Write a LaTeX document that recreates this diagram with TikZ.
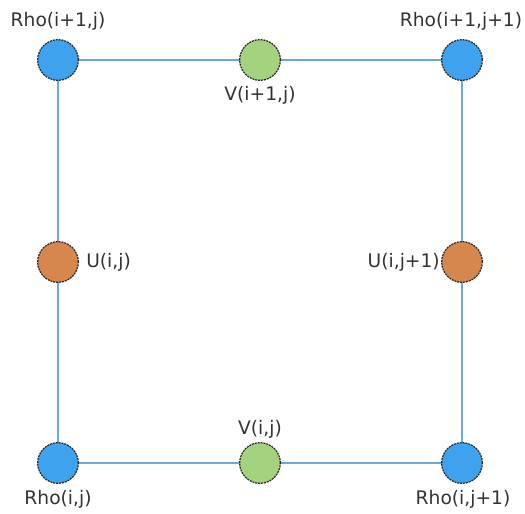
\documentclass[tikz,border=0pt]{standalone}
\usepackage{fontspec}
\setmainfont{DejaVu Sans}
\definecolor{rhoblue}{HTML}{3FA2EE}
\definecolor{vgreen}{HTML}{A3D37E}
\definecolor{uorange}{HTML}{D6874E}
\definecolor{gridline}{HTML}{6FA6DC}
\definecolor{txt}{HTML}{333333}
\begin{document}
\begin{tikzpicture}[x=0.75pt,y=-0.75pt,
  pt/.style={circle,inner sep=0pt,minimum size=30.5pt,
    draw=black!85,line width=0.9pt,dash pattern=on 1.5pt off 0.7pt},
  rho/.style={pt,fill=rhoblue},
  vv/.style={pt,fill=vgreen},
  uu/.style={pt,fill=uorange},
  lbl/.style={text=txt,font=\fontsize{14pt}{16pt}\selectfont,inner sep=0pt},
  edge/.style={draw=gridline,line width=1.5pt}]
\useasboundingbox (0,0) rectangle (525,514);
\coordinate (tl) at (58,60);
\coordinate (tr) at (462,60);
\coordinate (bl) at (58,463);
\coordinate (br) at (462,463);
\draw[edge] (tl) -- (tr) -- (br) -- (bl) -- cycle;
\node[rho] (r11) at (tl) {};
\node[rho] (r12) at (tr) {};
\node[rho] (r00) at (bl) {};
\node[rho] (r01) at (br) {};
\node[vv] (v1) at (260,60) {};
\node[vv] (v0) at (260,463) {};
\node[uu] (u0) at (58,262) {};
\node[uu] (u1) at (462,262) {};
\node[lbl] (lr11) at (58,21) {Rho(i+1,j)};
\node[lbl] (lr12) at (461,21) {Rho(i+1,j+1)};
\node[lbl] (lv1) at (260,95) {V(i+1,j)};
\node[lbl,anchor=west] (lu0) at (86,262) {U(i,j)};
\node[lbl,anchor=east] (lu1) at (440,262) {U(i,j+1)};
\node[lbl] (lv0) at (260,429) {V(i,j)};
\node[lbl] (lr00) at (58,499) {Rho(i,j)};
\node[lbl] (lr01) at (463,499) {Rho(i,j+1)};
\end{tikzpicture}
\end{document}
